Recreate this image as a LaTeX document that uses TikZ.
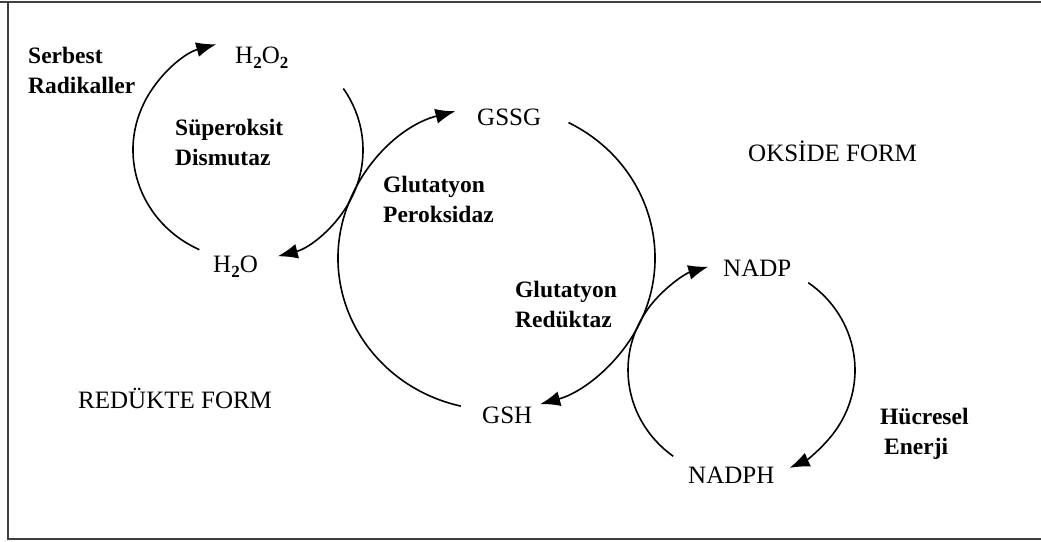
\documentclass[tikz,border=0pt]{standalone}
\usepackage{fontspec}
\setmainfont{Liberation Serif}
\usetikzlibrary{arrows.meta}
\newcommand\chemsub[1]{\raisebox{-5pt}{\fontsize{17}{17}\selectfont\bfseries #1}}
\newcommand\twolines[2]{\begin{tabular}[t]{@{}l@{}}#1\\#2\end{tabular}}
\begin{document}
\begin{tikzpicture}[x=1pt,y=1pt,
  lbl/.style={inner sep=0pt, anchor=base west, font=\fontsize{25}{30}\selectfont},
  blbl/.style={inner sep=0pt, anchor=base west, font=\fontsize{23.5}{30}\selectfont\bfseries},
  cyc/.style={line width=1.6pt, -{Latex[length=20pt,width=15pt]}},
  frame/.style={line width=2.2pt, draw=black!75}]
\useasboundingbox (0,0) rectangle (1041,-541);
% frame
\draw[frame] (0,-2) -- (1041,-2);
\draw[frame] (8,-2) -- (8,-539) -- (1041,-539);
% labels
\node[blbl] (rad) at (28,-63) {\twolines{Serbest}{Radikaller}};
\node[lbl] (h2o2) at (235,-63) {H\chemsub{2}O\chemsub{2}};
\node[blbl] (sod) at (175,-135) {\twolines{Süperoksit}{Dismutaz}};
\node[lbl] (h2o) at (213,-272) {H\chemsub{2}O};
\node[lbl] (gssg) at (477,-125) {GSSG};
\node[blbl] (gpx) at (383,-192) {\twolines{Glutatyon}{Peroksidaz}};
\node[blbl] (gr) at (515,-297) {\twolines{Glutatyon}{Redüktaz}};
\node[lbl] (gsh) at (482,-423) {GSH};
\node[lbl] (oks) at (748,-161) {OKSİDE FORM};
\node[lbl] (red) at (78,-408) {REDÜKTE FORM};
\node[lbl] (nadp) at (723,-276) {NADP};
\node[lbl] (nadph) at (688,-483) {NADPH};
\node[blbl] (enr) at (880,-424) {\twolines{Hücresel}{\hspace*{4pt}Enerji}};
% cycle centres
\coordinate (c1) at (248,-150);
\coordinate (c2) at (496.5,-258);
\coordinate (c3) at (741.5,-370);
% arc start points
\coordinate (s1a) at ([shift={(245:115pt and 110pt)}]c1);
\coordinate (s1b) at ([shift={(34:115pt and 110pt)}]c1);
\coordinate (s2a) at ([shift={(257:158.5pt and 152pt)}]c2);
\coordinate (s2b) at ([shift={(63:158.5pt and 152pt)}]c2);
\coordinate (s3a) at ([shift={(233:113.5pt and 108pt)}]c3);
\coordinate (s3b) at ([shift={(54:113.5pt and 108pt)}]c3);
% arcs
\draw[cyc] (s1a) arc[start angle=245, end angle=106, x radius=115pt, y radius=110pt];
\draw[cyc] (s1b) arc[start angle=34, end angle=-75, x radius=115pt, y radius=110pt];
\draw[cyc] (s2a) arc[start angle=257, end angle=105, x radius=158.5pt, y radius=152pt];
\draw[cyc] (s2b) arc[start angle=63, end angle=-74, x radius=158.5pt, y radius=152pt];
\draw[cyc] (s3a) arc[start angle=233, end angle=107, x radius=113.5pt, y radius=108pt];
\draw[cyc] (s3b) arc[start angle=54, end angle=-65, x radius=113.5pt, y radius=108pt];
\end{tikzpicture}
\end{document}
